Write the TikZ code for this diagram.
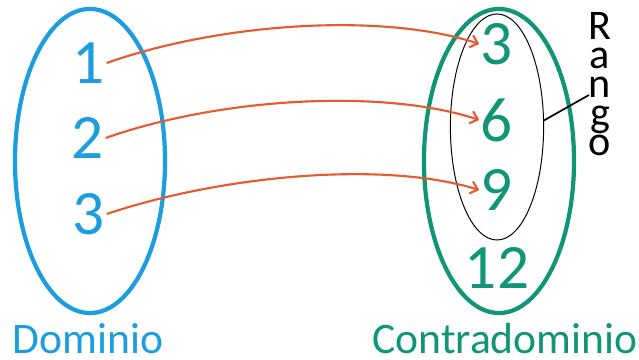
\documentclass[tikz,border=0pt]{standalone}
\usepackage{fontspec}
\setmainfont{Carlito}
\usetikzlibrary{shapes.geometric, arrows.meta}

\definecolor{domblue}{RGB}{27,157,222}
\definecolor{codgreen}{RGB}{16,150,118}
\definecolor{maparrow}{RGB}{234,88,48}

\begin{document}
\begin{tikzpicture}[
  x=0.025cm, y=0.025cm,
  setring/.style={ellipse, draw, line width=3pt, minimum width=3.75cm, minimum height=7.6cm},
  elem/.style={font=\fontsize{45}{45}\selectfont, inner sep=1pt},
  setname/.style={font=\fontsize{31}{31}\selectfont, inner sep=0pt},
  maps/.style={draw=maparrow, line width=1.5pt, -{Straight Barb[length=5pt,width=9pt]}},
]
\useasboundingbox (0,0) rectangle (639,360);

% the two sets
\node[setring, draw=domblue] (dom) at (90,199) {};
\node[setring, draw=codgreen] (cod) at (499,199) {};
\node[ellipse, draw, line width=0.7pt, minimum width=2.33cm, minimum height=5.65cm] (rng) at (497,233) {};

% elements
\node[elem, text=domblue] (d1) at (89,297) {1};
\node[elem, text=domblue] (d2) at (88,222) {2};
\node[elem, text=domblue] (d3) at (89,146) {3};

\node[elem, text=codgreen] (c3) at (497,316) {3};
\node[elem, text=codgreen] (c6) at (497,240) {6};
\node[elem, text=codgreen] (c9) at (497,170) {9};
\node[elem, text=codgreen] (c12) at (497,92) {12};

% names
\node[setname, text=domblue] (domlbl) at (88,21) {Dominio};
\node[setname, text=codgreen] (codlbl) at (505,21) {Contradominio};
\node[align=center, inner sep=0pt, font=\fontsize{30}{20.5}\selectfont] (rnglbl) at (600,276) {R\\a\\n\\g\\o};
\coordinate (rngtip) at (589,265);
\draw[line width=1.2pt] (rng.8) -- (rngtip);

% the mapping x -> 3x
\draw[maps] (d1.east) .. controls +(113,40) and +(-97,32) .. (c3.west);
\draw[maps] (d2.east) .. controls +(113,40) and +(-97,32) .. (c6.west);
\draw[maps] (d3.east) .. controls +(113,38) and +(-97,30) .. (c9.west);
\end{tikzpicture}
\end{document}
